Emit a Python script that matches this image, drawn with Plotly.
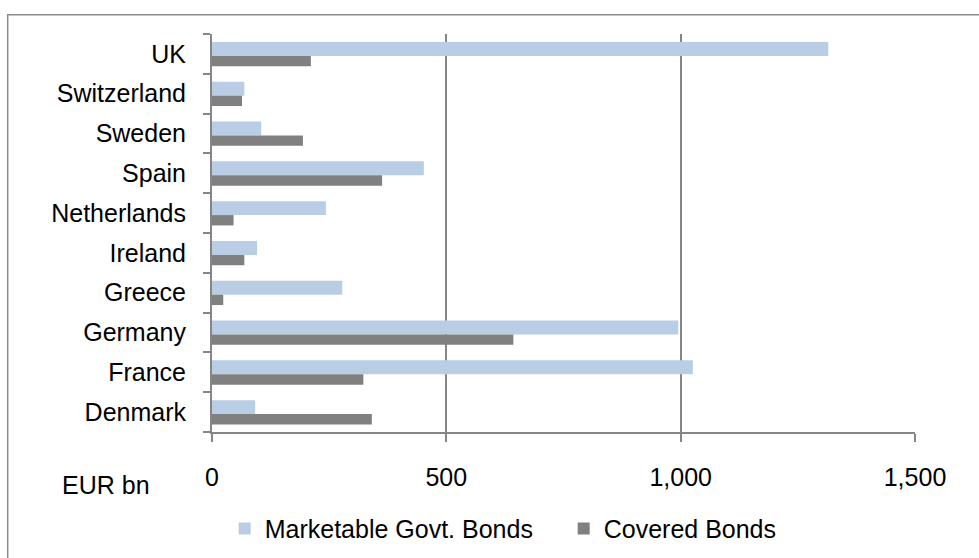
import plotly.graph_objects as go

countries = ["Denmark", "France", "Germany", "Greece", "Ireland",
             "Netherlands", "Spain", "Sweden", "Switzerland", "UK"]
govt_bonds = [92, 1026, 995, 278, 96, 243, 452, 105, 69, 1315]
covered_bonds = [341, 323, 643, 24, 69, 46, 363, 194, 64, 211]
x_ticks = [0, 500, 1000, 1500]
x_tick_labels = ["0", "500", "1,000", "1,500"]

FONT = "Liberation Sans"
GRID = "#868686"
FS = 25

fig = go.Figure()
fig.add_trace(go.Bar(
    y=countries, x=govt_bonds, orientation="h", name="Marketable Govt. Bonds",
    marker=dict(color="#B9CDE5", line=dict(width=0)),
    width=0.35, offset=-0.05,
))
fig.add_trace(go.Bar(
    y=countries, x=covered_bonds, orientation="h", name="Covered Bonds",
    marker=dict(color="#808080", line=dict(width=0)),
    width=0.26, offset=-0.31,
))

fig.update_layout(
    width=979, height=558,
    margin=dict(l=212, r=64, t=34, b=126, autoexpand=False),
    paper_bgcolor="white", plot_bgcolor="white",
    font=dict(family=FONT, size=FS, color="black"),
    barmode="overlay",
    showlegend=True,
    legend=dict(orientation="h", x=(225 - 212.3) / 703, xanchor="left",
                y=(432.3 - 529) / 398, yanchor="middle",
                font=dict(size=FS), traceorder="normal", itemwidth=30,
                entrywidth=294,
                bgcolor="rgba(0,0,0,0)"),
    xaxis=dict(range=[0, 1500], tickvals=x_ticks, ticktext=x_tick_labels,
               showgrid=True, gridcolor=GRID, gridwidth=2,
               showline=True, linecolor=GRID, linewidth=2,
               ticks="outside", ticklen=8, tickcolor=GRID, tickwidth=2,
               ticklabelstandoff=14, zeroline=False, fixedrange=True),
    yaxis=dict(categoryorder="array", categoryarray=countries,
               showline=True, linecolor=GRID, linewidth=2,
               ticks="outside", ticklen=7, tickcolor=GRID, tickwidth=2,
               tickson="boundaries", ticklabelstandoff=19,
               showgrid=False, range=[-0.5, 9.5], fixedrange=True),
)

fig.add_annotation(text="EUR bn", xref="paper", yref="paper",
                   x=(106 - 212.3) / 703, y=(432.3 - 485) / 398,
                   xanchor="center", yanchor="middle", showarrow=False,
                   font=dict(size=FS))

fig.add_shape(type="rect", xref="paper", yref="paper",
              x0=(8 - 212.3) / 703, x1=(990 - 212.3) / 703,
              y0=(432.3 - 570) / 398, y1=(432.3 - 15) / 398,
              line=dict(color="#8C8C8C", width=1.5), fillcolor="rgba(0,0,0,0)",
              layer="below")

fig.write_html("out.html")
